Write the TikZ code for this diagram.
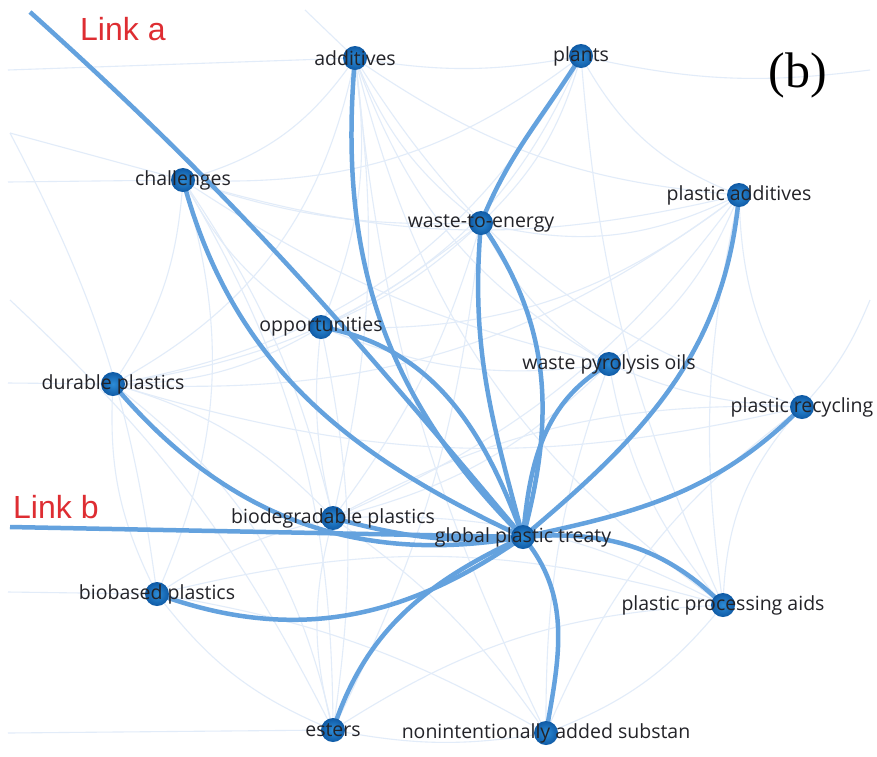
\documentclass[tikz,border=0pt]{standalone}
\usepackage{fontspec}
\setmainfont{Open Sans}
\newfontfamily\linkfont{Liberation Sans}
\newfontfamily\panelfont{Liberation Serif}
\definecolor{nodeIn}{RGB}{45,140,215}
\definecolor{nodeOut}{RGB}{15,90,165}
\definecolor{strongblue}{RGB}{100,162,222}
\definecolor{faintblue}{RGB}{226,236,249}
\definecolor{labelgray}{RGB}{35,35,40}
\definecolor{linkred}{RGB}{222,45,50}
\begin{document}
\begin{tikzpicture}[x=1pt,y=1pt,
  term/.style={circle, minimum size=24pt, inner sep=0pt, shading=radial,
    inner color=nodeIn, outer color=nodeOut},
  termlabel/.style={font=\fontsize{19.5}{19.5}\selectfont, text=labelgray, inner sep=0pt},
  strong/.style={draw=strongblue, line width=4.5pt},
  faint/.style={draw=faintblue, line width=1.1pt},
  linklabel/.style={font=\linkfont\fontsize{32}{32}\selectfont, text=linkred,
    anchor=base west, inner sep=0pt}]
\useasboundingbox (0,0) rectangle (877,-756);
\fill[white] (0,0) rectangle (877,-756);

% term positions
\coordinate (add) at (355,-58);
\coordinate (pla) at (581,-56);
\coordinate (cha) at (183,-180);
\coordinate (wte) at (481,-223);
\coordinate (pad) at (739,-195);
\coordinate (opp) at (321,-327);
\coordinate (wpo) at (609,-364);
\coordinate (dur) at (113,-384);
\coordinate (prc) at (802,-407);
\coordinate (bdg) at (333,-518);
\coordinate (gpt) at (523,-537);
\coordinate (bbs) at (157,-594);
\coordinate (ppa) at (723,-605);
\coordinate (est) at (333,-730);
\coordinate (nia) at (546,-733);

% free ends of lines leaving the frame
\coordinate (la) at (30,-12);
\coordinate (lb) at (10,-527);
\coordinate (e1) at (8,-70);
\coordinate (e2) at (8,-182);
\coordinate (e3) at (8,-383);
\coordinate (e4) at (8,-592);
\coordinate (e5) at (8,-733);
\coordinate (e6) at (10,-133);
\coordinate (e7) at (305,-10);
\coordinate (e8) at (870,-70);
\coordinate (e9) at (10,-300);
\coordinate (e10) at (870,-300);

% weak co-occurrence links
\foreach \a/\b/\c in {add/cha/20, add/wte/-15, add/opp/15, add/wpo/-20, add/pad/-15,
  add/prc/-20, add/dur/25, add/pla/-10, add/bdg/10, add/ppa/-20, add/nia/-10,
  cha/dur/15, cha/opp/-15, cha/wte/-10, cha/bdg/10, cha/bbs/20, cha/pad/-15,
  cha/est/15, cha/wpo/-10, pla/wte/15, pla/opp/20, pla/pad/-20, pla/ppa/-10,
  pla/dur/25, pla/cha/20, wte/opp/10, wte/wpo/-15, wte/pad/-20, wte/dur/15,
  wte/bdg/10, wte/est/10, pad/wpo/15, pad/prc/-15, pad/opp/20, pad/bdg/15,
  pad/dur/20, pad/ppa/-10, opp/dur/15, opp/bdg/-10, opp/wpo/-15, opp/est/10,
  wpo/prc/-10, wpo/bdg/15, wpo/ppa/-15, wpo/nia/-10, dur/bdg/15, dur/bbs/-15,
  dur/est/20, dur/prc/-15, prc/ppa/-20, prc/bdg/-15, prc/nia/-15, bdg/bbs/-10,
  bdg/est/-15, bdg/ppa/15, bdg/nia/10, bbs/est/-15, bbs/nia/10, bbs/ppa/15,
  est/nia/-10, est/ppa/15, nia/ppa/-15,
  e1/add/0, e2/cha/0, e3/dur/0, e4/bbs/0, e5/est/0, e6/bbs/10, e7/add/0,
  e8/pla/10, e9/est/10, e10/prc/10, e6/cha/0}
  \draw[faint] (\a) to[bend left=\c] (\b);

% strong links to the global plastic treaty
\draw[strong] (la) to[out=-42,in=130] (gpt);
\draw[strong] (lb) -- (gpt);
\draw[strong] (add) to[out=265,in=135] (gpt);
\draw[strong] (pla) to[out=238,in=68] (wte) to[out=265,in=105] (gpt);
\draw[strong] (wte) to[out=-55,in=75] (gpt);
\draw[strong] (cha) to[out=-75,in=155] (gpt);
\draw[strong] (opp) to[out=-10,in=110] (gpt);
\draw[strong] (dur) to[out=-50,in=190] (gpt);
\draw[strong] (bdg) to[out=-15,in=185] (gpt);
\draw[strong] (bbs) to[out=-20,in=215] (gpt);
\draw[strong] (est) to[out=72,in=205] (gpt);
\draw[strong] (nia) to[out=80,in=-50] (gpt);
\draw[strong] (ppa) to[out=135,in=5] (gpt);
\draw[strong] (prc) to[out=-135,in=12] (gpt);
\draw[strong] (pad) to[out=-95,in=40] (gpt);
\draw[strong] (wpo) to[out=210,in=85] (gpt);

% term circles
\foreach \t in {add,pla,cha,wte,pad,opp,wpo,dur,prc,bdg,gpt,bbs,ppa,est,nia}
  \node[term] (\t-dot) at (\t) {};

% term labels
\node[termlabel] (add-l) at (add) {additives};
\node[termlabel] (pla-l) at (pla) {plants};
\node[termlabel] (cha-l) at (cha) {challenges};
\node[termlabel] (wte-l) at (wte) {waste-to-energy};
\node[termlabel] (pad-l) at (pad) {plastic additives};
\node[termlabel] (opp-l) at (opp) {opportunities};
\node[termlabel] (wpo-l) at (wpo) {waste pyrolysis oils};
\node[termlabel] (dur-l) at (dur) {durable plastics};
\node[termlabel] (prc-l) at (prc) {plastic recycling};
\node[termlabel] (bdg-l) at (bdg) {biodegradable plastics};
\node[termlabel] (gpt-l) at (gpt) {global plastic treaty};
\node[termlabel] (bbs-l) at (bbs) {biobased plastics};
\node[termlabel] (ppa-l) at (ppa) {plastic processing aids};
\node[termlabel] (est-l) at (est) {esters};
\node[termlabel] (nia-l) at (nia) {nonintentionally added substan};

% annotations
\node[linklabel] (linka) at (80,-40) {Link a};
\node[linklabel] (linkb) at (13,-518) {Link b};
\node[font=\panelfont\fontsize{50}{50}\selectfont, inner sep=0pt] (panel) at (798,-75) {(b)};
\end{tikzpicture}
\end{document}
